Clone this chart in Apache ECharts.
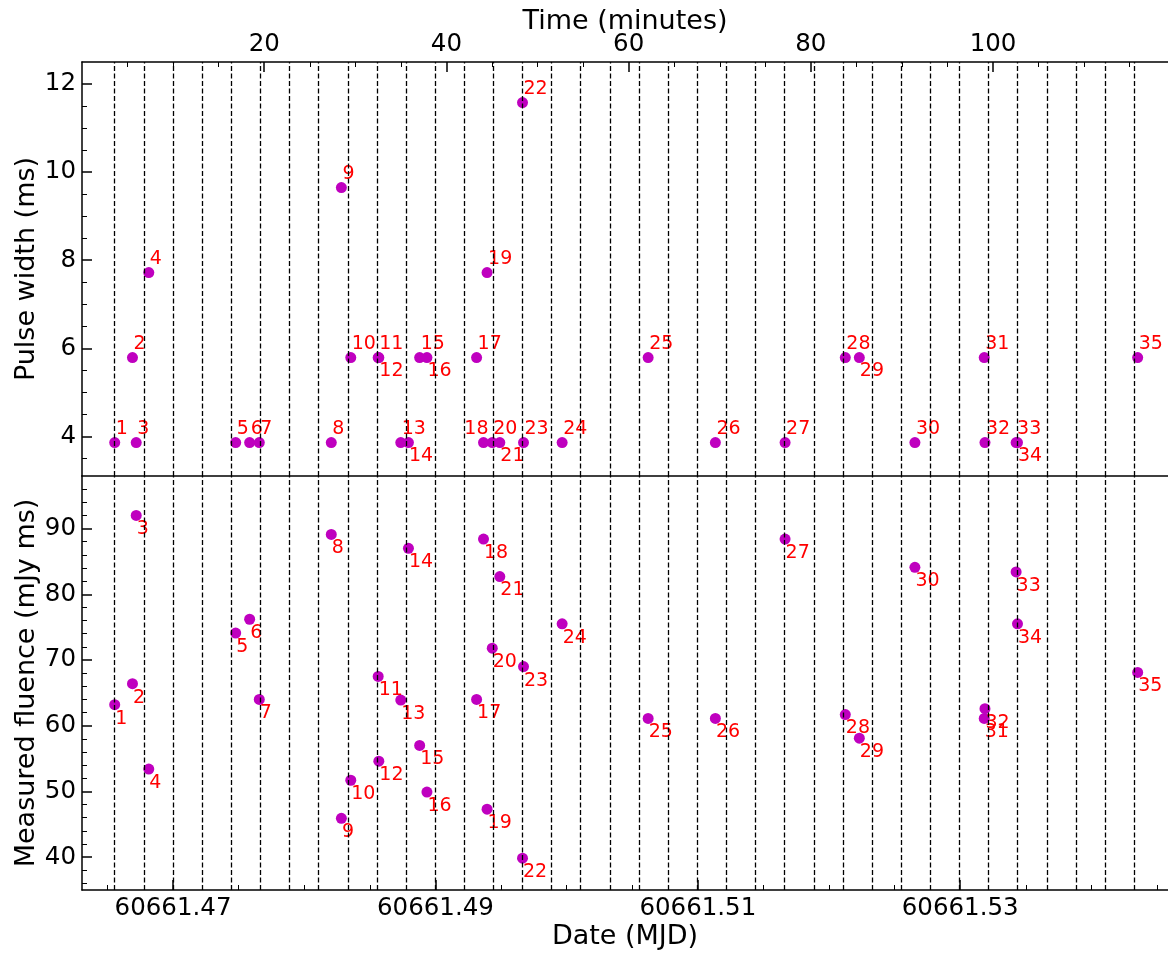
<!DOCTYPE html>
<html>
<head>
<meta charset="utf-8">
<title>Pulse width and fluence per burst</title>
<script src="https://cdn.jsdelivr.net/npm/echarts@6/dist/echarts.min.js"></script>
<style>
  html, body { margin: 0; padding: 0; background: #fff; }
  #main { width: 1168px; height: 956px; }
</style>
</head>
<body>
<div id="main"></div>
<script>
// burst arrival times, minutes since start (top axis)
var burstTime = [3.59, 5.54, 5.95, 7.33, 16.87, 18.40, 19.46, 27.36, 28.47, 29.50,
                 32.51, 32.58, 34.99, 35.83, 37.06, 37.86, 43.31, 44.07, 44.46, 45.03,
                 45.86, 48.35, 48.46, 52.70, 62.14, 69.52, 77.17, 83.78, 85.32, 91.42,
                 99.03, 99.11, 102.53, 102.68, 115.87];
// pulse width (ms)
var pulseWidth = [3.86, 5.79, 3.86, 7.72, 3.86, 3.86, 3.86, 3.86, 9.65, 5.79,
                  5.79, 5.79, 3.86, 3.86, 5.79, 5.79, 5.79, 3.86, 7.72, 3.86,
                  3.86, 11.58, 3.86, 3.86, 5.79, 3.86, 3.86, 5.79, 5.79, 3.86,
                  5.79, 3.86, 3.86, 3.86, 5.79];
// measured fluence (mJy ms)
var fluence = [63.2, 66.4, 92.0, 53.4, 74.1, 76.2, 64.0, 89.1, 45.9, 51.7,
               67.5, 54.6, 63.9, 87.0, 57.0, 49.9, 64.0, 88.4, 47.3, 71.8,
               82.7, 39.85, 69.0, 75.5, 61.1, 61.1, 88.4, 61.7, 58.1, 84.1,
               61.1, 62.6, 83.4, 75.5, 68.1];
// top panel: numbers put under the dot, and to the left of it
var labelBelowTop = [12, 14, 16, 21, 29, 34];
var labelLeftTop = [18];

// dashed vertical lines (minutes)
var scanEdges = [3.59, 6.79, 9.98, 13.18, 16.38, 19.58, 22.77, 25.97, 29.17, 32.36,
                 35.56, 38.76, 41.95, 45.15, 48.35, 51.55, 54.74, 57.94, 61.14, 64.33,
                 67.53, 70.73, 73.93, 77.12, 80.32, 83.52, 86.71, 89.91, 93.11, 96.30,
                 99.50, 102.70, 105.90, 109.09, 112.29, 115.49];

var minuteTicks = [20, 40, 60, 80, 100];
var minuteMinorTicks = [5, 10, 15, 25, 30, 35, 45, 50, 55, 65, 70, 75, 85, 90, 95, 105, 110, 115];
var mjdTicks = [60661.47, 60661.49, 60661.51, 60661.53];
var mjdMinorTicks = [60661.465, 60661.475, 60661.48, 60661.485, 60661.495, 60661.5, 60661.505,
                     60661.515, 60661.52, 60661.525, 60661.535, 60661.54, 60661.545];
var widthTicks = [4, 6, 8, 10, 12];
var widthMinorTicks = [3.5, 4.5, 5, 5.5, 6.5, 7, 7.5, 8.5, 9, 9.5, 10.5, 11, 11.5];
var fluenceTicks = [40, 50, 60, 70, 80, 90];
var fluenceMinorTicks = [36, 38, 42, 44, 46, 48, 52, 54, 56, 58, 62, 64, 66, 68,
                         72, 74, 76, 78, 82, 84, 86, 88, 92, 94, 96];

var T0 = 60661.46306;   // MJD at minute 0
var xMax = 119.2;
var FONT = 'DejaVu Sans';
var DOT = 11;

function toMin(mjd) { return (mjd - T0) * 1440; }

// one axis = ticks (major or minor) in a given grid
function axis(kind, gridIndex, position, min, max, ticks, len, extra) {
  var a = {
    type: 'value',
    gridIndex: gridIndex,
    position: position,
    min: min,
    max: max,
    splitLine: { show: false },
    axisLine: { show: false },
    axisTick: {
      show: ticks.length > 0,
      inside: true,
      length: len,
      customValues: ticks,
      lineStyle: { color: '#000', width: kind === 'major' ? 1.5 : 1 }
    },
    axisLabel: { show: false }
  };
  for (var k in extra) a[k] = extra[k];
  return a;
}

function labelCfg(show, customValues, margin, fmt) {
  return {
    show: show,
    customValues: customValues,
    margin: margin,
    color: '#000',
    fontSize: 24.5,
    fontFamily: FONT,
    formatter: fmt
  };
}

var nameStyle = { fontSize: 27, color: '#000', fontFamily: FONT };
var spine = { show: true, onZero: false, lineStyle: { color: '#000', width: 1.5 } };

var xAxes = [
  axis('major', 0, 'top', 0, xMax, minuteTicks, 10, {
    axisLine: spine,
    axisLabel: labelCfg(true, minuteTicks, 4.5, function (v) { return Math.round(v); }),
    name: 'Time (minutes)', nameLocation: 'middle', nameGap: 27, nameMoveOverlap: false,
    nameTextStyle: nameStyle
  }),
  axis('minor', 0, 'top', 0, xMax, minuteMinorTicks, 5, {}),
  axis('major', 1, 'bottom', 0, xMax, mjdTicks.map(toMin), 10, {
    axisLine: spine,
    axisLabel: labelCfg(true, mjdTicks.map(toMin), 6, function (v) { return (T0 + v / 1440).toFixed(2); }),
    name: 'Date (MJD)', nameLocation: 'middle', nameGap: 33, nameMoveOverlap: false,
    nameTextStyle: nameStyle
  }),
  axis('minor', 1, 'bottom', 0, xMax, mjdMinorTicks.map(toMin), 5, {}),
  axis('minor', 1, 'top', 0, xMax, [], 0, { axisLine: spine })
];

var yAxes = [
  axis('major', 0, 'left', 3.1, 12.5, widthTicks, 10, {
    axisLine: spine,
    axisLabel: labelCfg(true, widthTicks, 6),
    name: 'Pulse width (ms)', nameLocation: 'middle', nameGap: 42, nameMoveOverlap: false,
    nameTextStyle: nameStyle
  }),
  axis('minor', 0, 'left', 3.1, 12.5, widthMinorTicks, 5, {}),
  axis('major', 1, 'left', 35, 98, fluenceTicks, 10, {
    axisLine: spine,
    axisLabel: labelCfg(true, fluenceTicks, 6),
    name: 'Measured fluence (mJy ms)', nameLocation: 'middle', nameGap: 42, nameMoveOverlap: false,
    nameTextStyle: nameStyle
  }),
  axis('minor', 1, 'left', 35, 98, fluenceMinorTicks, 5, {})
];

var above = { position: [DOT / 2 + 1, DOT / 2 - 13] };
var aboveLeft = { position: [DOT / 2 + 5, DOT / 2 - 13], align: 'right' };
var below = { position: [DOT / 2 + 0.5, DOT / 2 + 14] };

var topData = burstTime.map(function (t, i) {
  var n = i + 1;
  var lab = above;
  if (labelBelowTop.indexOf(n) >= 0) lab = below;
  if (labelLeftTop.indexOf(n) >= 0) lab = aboveLeft;
  return { name: String(n), value: [t, pulseWidth[i]], label: lab };
});
var bottomData = burstTime.map(function (t, i) {
  return { name: String(i + 1), value: [t, fluence[i]], label: below };
});

var pointLabel = {
  show: true,
  formatter: '{b}',
  align: 'left',
  verticalAlign: 'middle',
  color: '#ff0000',
  fontSize: 19,
  fontFamily: FONT
};

function dashed(xi, yi) {
  return {
    type: 'line',
    xAxisIndex: xi,
    yAxisIndex: yi,
    data: [],
    z: 5,
    silent: true,
    markLine: {
      silent: true,
      symbol: 'none',
      label: { show: false },
      animation: false,
      lineStyle: { type: [5, 2.5], color: '#000', width: 1.3, opacity: 1 },
      emphasis: { disabled: true },
      data: scanEdges.map(function (v) { return { xAxis: v }; })
    }
  };
}

var chart = echarts.init(document.getElementById('main'), null, { renderer: 'canvas' });
chart.setOption({
  animation: false,
  backgroundColor: '#fff',
  textStyle: { fontFamily: FONT },
  grid: [
    { left: 82, right: 0, top: 62, height: 414 },
    { left: 82, right: 0, top: 476, height: 414 }
  ],
  xAxis: xAxes,
  yAxis: yAxes,
  series: [
    {
      type: 'scatter',
      xAxisIndex: 0,
      yAxisIndex: 0,
      symbolSize: DOT,
      itemStyle: { color: '#bf00bf', opacity: 1 },
      label: pointLabel,
      data: topData,
      z: 2
    },
    {
      type: 'scatter',
      xAxisIndex: 2,
      yAxisIndex: 2,
      symbolSize: DOT,
      itemStyle: { color: '#bf00bf', opacity: 1 },
      label: pointLabel,
      data: bottomData,
      z: 2
    },
    dashed(0, 0),
    dashed(2, 2)
  ]
});
window.addEventListener('resize', chart.resize);
</script>
</body>
</html>
